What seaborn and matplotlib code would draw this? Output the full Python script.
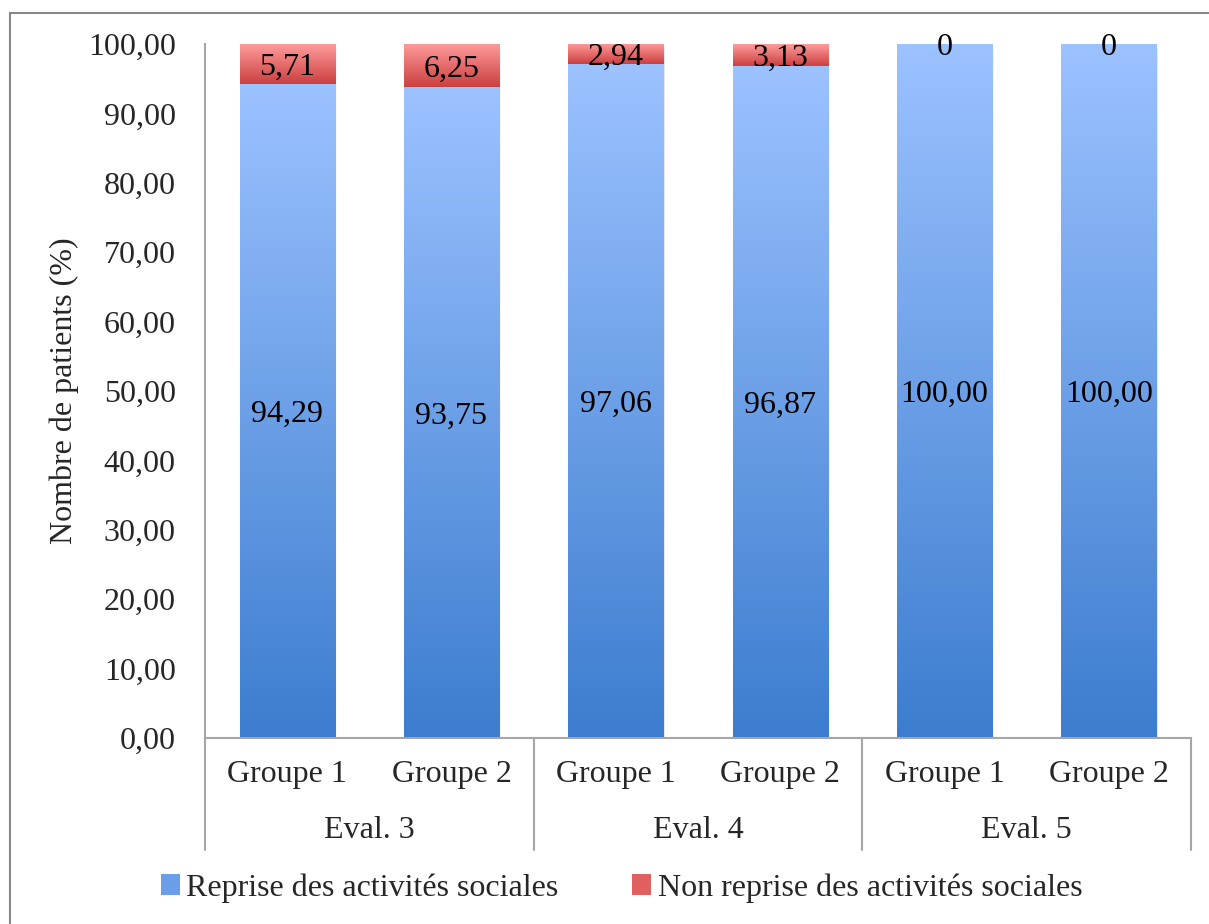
import numpy as np
import pandas as pd
import matplotlib
matplotlib.use("Agg")
import matplotlib.pyplot as plt
import matplotlib.transforms as mtransforms
from matplotlib.colors import LinearSegmentedColormap
from matplotlib.patches import Patch, Rectangle
import seaborn as sns

evals = ["Eval. 3", "Eval. 4", "Eval. 5"]
groupes = ["Groupe 1", "Groupe 2"]
reprise = [94.29, 93.75, 97.06, 96.87, 100.00, 100.00]
non_reprise = [5.71, 6.25, 2.94, 3.13, 0, 0]
yticks = [0, 10, 20, 30, 40, 50, 60, 70, 80, 90, 100]

lab_reprise = "Reprise des activités sociales"
lab_non = "Non reprise des activités sociales"

sns.set_theme(style="white")
plt.rcParams["font.family"] = ["Liberation Serif", "DejaVu Serif"]
FS = 23

cats = [f"{e}|{g}" for e in evals for g in groupes]
df = pd.DataFrame({"cat": cats, "reprise": reprise, "non": non_reprise})
df["total"] = df["reprise"] + df["non"]

fig = plt.figure(figsize=(12.09, 9.24), dpi=100)
ax = fig.add_axes([205 / 1209, 1 - 738 / 924, 986 / 1209, 694 / 924])

sns.barplot(data=df, x="cat", y="total", color="#e06060", width=0.58, ax=ax, saturation=1)
n = len(cats)
sns.barplot(data=df, x="cat", y="reprise", color="#6a9ee8", width=0.58, ax=ax, saturation=1)

red_patches = ax.patches[:n]
blue_patches = ax.patches[n:2 * n]

blue_map = LinearSegmentedColormap.from_list("b", ["#3c7dcf", "#9cc2ff"])
red_map = LinearSegmentedColormap.from_list("r", ["#cc3f3f", "#ff9c9c"])
grad = np.linspace(0, 1, 256).reshape(-1, 1)


def fill_gradient(p, y0, y1, cmap, z):
    x = p.get_x()
    w = p.get_width()
    if y1 - y0 <= 0:
        p.set_visible(False)
        return
    p.set_y(y0)
    p.set_height(y1 - y0)
    # soft shadow on the right/bottom side
    for k, a in enumerate([0.10, 0.06, 0.03]):
        sh = Rectangle((x + 0.004 * (k + 1), y0 - 0.25 * (k + 1)), w, y1 - y0,
                       facecolor="black", alpha=a, edgecolor="none", zorder=z - 0.5)
        ax.add_patch(sh)
    im = ax.imshow(grad, cmap=cmap, origin="lower", aspect="auto",
                   extent=[x, x + w, y0, y1], zorder=z, interpolation="bilinear")
    im.set_clip_path(p)
    p.set_facecolor("none")
    p.set_edgecolor("none")


for i in range(n):
    fill_gradient(blue_patches[i], 0, df["reprise"][i], blue_map, 2)
    fill_gradient(red_patches[i], df["reprise"][i], df["total"][i], red_map, 2)

ax.set_xlim(-0.5, n - 0.5)
ax.set_ylim(0, 100)
ax.set_yticks(yticks)
ax.set_yticklabels([f"{v:.2f}".replace(".", ",") for v in yticks], fontsize=FS)
ax.set_xticks(range(n))
ax.set_xticklabels([g for e in evals for g in groupes], fontsize=FS)
ax.tick_params(axis="y", length=0, pad=21)
ax.tick_params(axis="x", length=0, pad=16)
ax.set_xlabel("")
ax.set_ylabel("Nombre de patients (%)", fontsize=FS)
ax.yaxis.set_label_coords(-0.128, 0.5)

for s in ["top", "right"]:
    ax.spines[s].set_visible(False)
for s in ["left", "bottom"]:
    ax.spines[s].set_color("#a6a6a6")
    ax.spines[s].set_linewidth(1.5)

# value labels
for i in range(n):
    r = df["reprise"][i]
    nr = df["non"][i]
    ax.text(i, r / 2, f"{r:.2f}".replace(".", ","), ha="center",
            va="center_baseline", fontsize=FS, color="black", zorder=5)
    t = f"{nr:.2f}".replace(".", ",") if nr else "0"
    ax.text(i, r + nr / 2, t, ha="center", va="center_baseline", fontsize=FS,
            color="black", zorder=5)

# group separators and group labels
trans = mtransforms.blended_transform_factory(ax.transData, ax.transAxes)
for b in np.arange(-0.5, n, len(groupes)):
    ax.plot([b, b], [0, -0.161], transform=trans, color="#a6a6a6", lw=1.5,
            clip_on=False)
for k, e in enumerate(evals):
    ax.text(k * len(groupes) + 0.5, -0.1326, e, transform=trans, ha="center",
            va="center", fontsize=FS)

handles = [Patch(facecolor="#6a9ee8", edgecolor="none"),
           Patch(facecolor="#e06060", edgecolor="none")]
fig.legend(handles, [lab_reprise, lab_non], loc="center", ncol=2,
           bbox_to_anchor=(0.514, 0.039), frameon=False, fontsize=FS,
           handlelength=0.6, handleheight=0.6, handletextpad=0.2,
           columnspacing=2.3)

# outer chart border (Excel chart area)
fig.add_artist(Rectangle((10 / 1209, -0.1), 1.2, 1 - 13 / 924 + 0.1,
                         transform=fig.transFigure, fill=False,
                         edgecolor="#888888", lw=1.5))

fig.savefig("out.png", dpi=100)
